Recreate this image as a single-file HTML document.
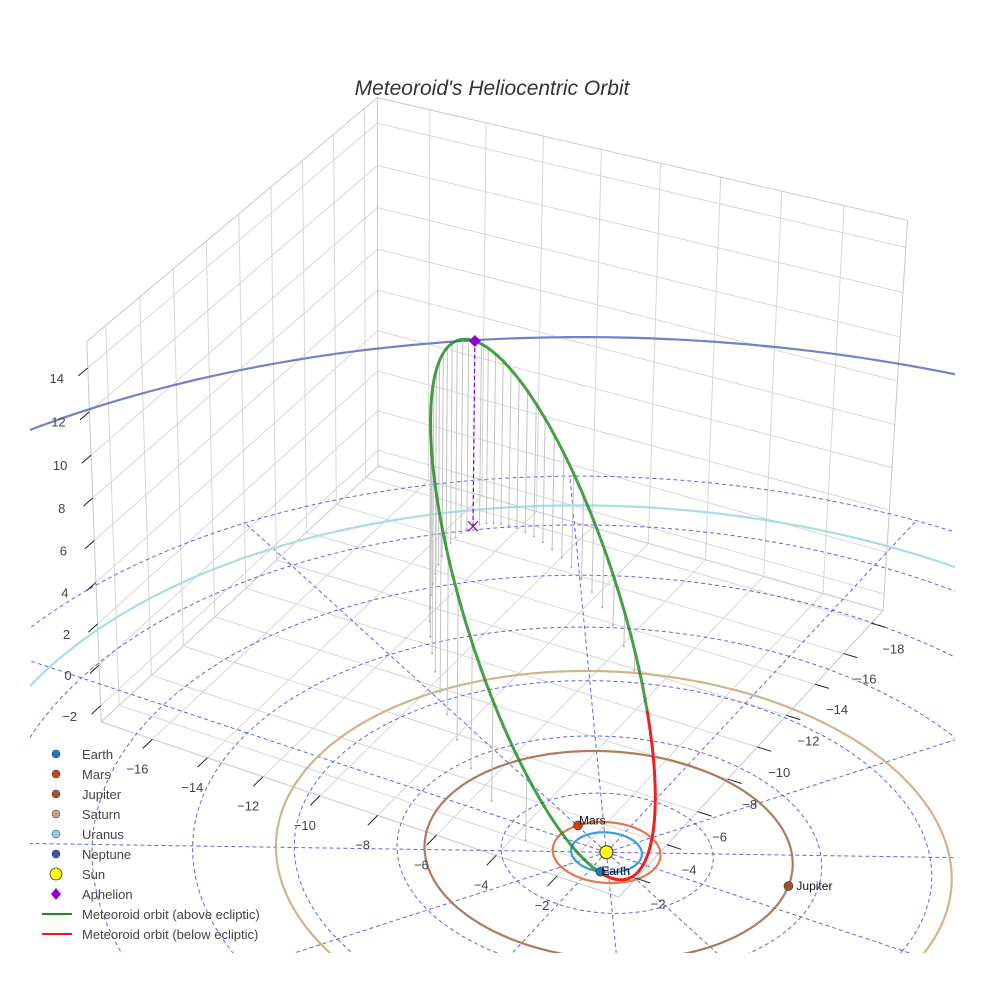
<!DOCTYPE html>
<html><head><meta charset="utf-8"><style>
html,body{margin:0;padding:0;background:#fff;width:984px;height:984px;overflow:hidden}
svg{display:block;font-family:"Liberation Sans",sans-serif}
</style></head><body>
<svg id="chart" width="984" height="984" viewBox="0 0 984 984">
<defs><clipPath id="sceneClip"><rect x="30" y="95" width="925" height="858"/></clipPath></defs>
<rect x="0" y="0" width="984" height="984" fill="#fff"/>
<g id="scene" clip-path="url(#sceneClip)"></g>
<g id="axes"></g>
<text x="492" y="95" text-anchor="middle" font-size="21" font-style="italic" fill="#333">Meteoroid's Heliocentric Orbit</text>
<g id="legend" font-size="13" fill="#444">
 <g><circle cx="56" cy="754" r="4" fill="#1f77b4" stroke="#234" stroke-width="0.5"/><text x="82" y="759">Earth</text></g>
 <g><circle cx="56" cy="774" r="4" fill="#cc4411" stroke="#234" stroke-width="0.5"/><text x="82" y="779">Mars</text></g>
 <g><circle cx="56" cy="794" r="4" fill="#a0522d" stroke="#234" stroke-width="0.5"/><text x="82" y="799">Jupiter</text></g>
 <g><circle cx="56" cy="814" r="4" fill="#c8a07a" stroke="#234" stroke-width="0.5"/><text x="82" y="819">Saturn</text></g>
 <g><circle cx="56" cy="834" r="4" fill="#8ccbe0" stroke="#234" stroke-width="0.5"/><text x="82" y="839">Uranus</text></g>
 <g><circle cx="56" cy="854" r="4" fill="#3f51a5" stroke="#234" stroke-width="0.5"/><text x="82" y="859">Neptune</text></g>
 <g><circle cx="56" cy="874" r="6" fill="#ffff00" stroke="#333" stroke-width="0.8"/><text x="82" y="879">Sun</text></g>
 <g><polygon points="56,888 61,894 56,900 51,894" fill="#9400d3"/><text x="82" y="899">Aphelion</text></g>
 <g><line x1="42" y1="914" x2="72" y2="914" stroke="#1f8a1f" stroke-width="2"/><text x="82" y="919">Meteoroid orbit (above ecliptic)</text></g>
 <g><line x1="42" y1="934" x2="72" y2="934" stroke="#e8191b" stroke-width="2"/><text x="82" y="939">Meteoroid orbit (below ecliptic)</text></g>
</g>
</svg>
<script>
// ---- data ----
const xTicks = [-16,-14,-12,-10,-8,-6,-4,-2];
const yTicks = [-18,-16,-14,-12,-10,-8,-6,-4,-2];
const zTicks = [-2,0,2,4,6,8,10,12,14];
const xRange = [-17.9, 0];
const yRange = [-18.85, -0.9];
const zRange = [-2.8, 15.2];
const planetNames = ["Earth","Mars","Jupiter","Saturn","Uranus","Neptune"];
const planetRadii = [1.0, 1.524, 5.203, 9.537, 19.19, 30.07];
const planetAngles = [73, 211, -13, 75, 45, 100];
const planetLabelShown = [true, true, true, false, false, false];
const ringRadii = [3,6,9,12,15,18,21];
const rayAngles = [0,30,60,90,120,150,180,210,240,270,300,330];
const perihelionQ = 0.966;
const eccentricity = 0.909;
const inclinationDeg = 52;
const nodeDeg = 72.3;
const argPeriDeg = -33.8;

// styling (not data)
const orbitColors = ["#3d9be0","#e0784e","#b07a5c","#d2b48c","#aadbe6","#7282c8"];
const markerColors = ["#1f77b4","#cc4411","#a0522d","#c8a07a","#8ccbe0","#3f51a5"];

// camera calibration (world -> screen) correspondences, last value = weight
function polar(r,a){return [r*Math.cos(a*Math.PI/180), r*Math.sin(a*Math.PI/180)];}
const calib = [
 [0,0,0,605,854,3],[0,-0.9,-2.8,620,893,1],[-17.9,-0.9,-2.8,100,727,1],[-17.9,-0.9,15.2,82,335,1],
 [-17.9,-18.85,15.2,389,102,1],[-17.9,-18.85,-2.8,394,470,1],[0,-18.85,-2.8,895,612,1],[0,-18.85,15.2,911,229,1],
 [-16,-0.9,-2.8,157,742,1],[-2,-0.9,-2.8,562,874,1],[0,-18,-2.8,880,623,1],[0,-2,-2.8,633,875,1],
 [-17.9,-0.9,14,85,362,1],[-17.9,-0.9,-2,102,710,1]
];
[[5.2,244,605,747],[5.2,149,426,854],[5.2,-31,792,854],
 [9.54,244,603,662],[19.19,244,600,517],[30.07,244,598,323]].forEach(r=>{
  const p=polar(r[0],r[1]); calib.push([p[0],p[1],0,r[2],r[3],1]);
});
function gauss(A,b){
  const n=b.length; const M=A.map((r,i)=>r.concat([b[i]]));
  for(let c=0;c<n;c++){
    let p=c; for(let r=c+1;r<n;r++) if(Math.abs(M[r][c])>Math.abs(M[p][c])) p=r;
    [M[c],M[p]]=[M[p],M[c]];
    for(let r=0;r<n;r++){ if(r===c) continue; const f=M[r][c]/M[c][c]; for(let k=c;k<=n;k++) M[r][k]-=f*M[c][k]; }
  }
  return M.map((r,i)=>r[n]/r[i]);
}
const cam=(function(){
  const N=[];for(let i=0;i<11;i++)N.push(new Array(11).fill(0));const r=new Array(11).fill(0);
  for(const c of calib){
    const x=c[0]/20,y=c[1]/20,z=c[2]/20,un=(c[3]-500)/500,vn=(c[4]-500)/500,wt=c[5];
    const rows=[[x,y,z,1,0,0,0,0,-un*x,-un*y,-un*z,un],[0,0,0,0,x,y,z,1,-vn*x,-vn*y,-vn*z,vn]];
    for(const row of rows) for(let i=0;i<11;i++){ r[i]+=wt*row[i]*row[11]; for(let j=0;j<11;j++) N[i][j]+=wt*row[i]*row[j]; }
  }
  return gauss(N,r);
})();
function P(X,Y,Z){
  const x=X/20,y=Y/20,z=Z/20,p=cam;
  const d=p[8]*x+p[9]*y+p[10]*z+1;
  return [ (p[0]*x+p[1]*y+p[2]*z+p[3])/d*500+500, (p[4]*x+p[5]*y+p[6]*z+p[7])/d*500+500, d>0.08 ];
}
const NS="http://www.w3.org/2000/svg";
const scene=document.getElementById('scene');
const axesG=document.getElementById('axes');
function mk(tag,attrs,parent){const e=document.createElementNS(NS,tag);for(const k in attrs)e.setAttribute(k,attrs[k]);(parent||scene).appendChild(e);return e;}
function pathFrom(pts3){
  let d="",pen=false;
  for(const q of pts3){const s=P(q[0],q[1],q[2]); if(!s[2]){pen=false;continue;} d+=(pen?"L":"M")+s[0].toFixed(1)+","+s[1].toFixed(1); pen=true;}
  return d;
}
function seg(a,b,stroke,w,name,dash){
  const e=mk('path',{d:pathFrom([a,b]),stroke:stroke,'stroke-width':w,fill:'none'});
  if(dash) e.setAttribute('stroke-dasharray',dash);
  
  
  return e;
}
const [x0,x1]=xRange,[y0,y1]=yRange,[z0,z1]=zRange;
const gridC="#d6d6d6", edgeC="#c8c8c8";
for(const t of xTicks) seg([t,y0,z0],[t,y1,z0],gridC,1,'floor-grid-x');
for(const t of yTicks) seg([x0,t,z0],[x1,t,z0],gridC,1,'floor-grid-y');
for(const t of yTicks) seg([x0,t,z0],[x0,t,z1],gridC,1,'left-wall-grid-y');
for(const t of zTicks) seg([x0,y0,t],[x0,y1,t],gridC,1,'left-wall-grid-z');
for(const t of xTicks) seg([t,y0,z0],[t,y0,z1],gridC,1,'right-wall-grid-x');
for(const t of zTicks) seg([x0,y0,t],[x1,y0,t],gridC,1,'right-wall-grid-z');
const edges=[[[x0,y1,z0],[x1,y1,z0]],[[x1,y1,z0],[x1,y0,z0]],[[x0,y0,z0],[x0,y1,z0]],[[x0,y0,z0],[x1,y0,z0]],
 [[x0,y1,z0],[x0,y1,z1]],[[x0,y0,z0],[x0,y0,z1]],[[x1,y0,z0],[x1,y0,z1]],
 [[x0,y1,z1],[x0,y0,z1]],[[x0,y0,z1],[x1,y0,z1]]];
for(const e of edges) seg(e[0],e[1],edgeC,1,'box-edge');

for(const r of ringRadii){
  const pts=[];for(let a=0;a<=360;a+=2){const t=a*Math.PI/180;pts.push([r*Math.cos(t),r*Math.sin(t),0]);}
  const e=mk('path',{d:pathFrom(pts),stroke:'rgba(70,70,235,0.85)','stroke-width':1,fill:'none','stroke-dasharray':'4,3'});
  
  
}
const rMax=ringRadii[ringRadii.length-1];
for(const a of rayAngles){
  const t=a*Math.PI/180;
  seg([0,0,0],[rMax*Math.cos(t),rMax*Math.sin(t),0],'rgba(70,70,235,0.85)',1,'ecliptic-ray','4,3');
}
planetRadii.forEach((r,i)=>{
  const pts=[];for(let a=0;a<=360;a+=1){const t=a*Math.PI/180;pts.push([r*Math.cos(t),r*Math.sin(t),0]);}
  const e=mk('path',{d:pathFrom(pts),stroke:orbitColors[i],'stroke-width':2.2,fill:'none'});
  
  
});

const D2R=Math.PI/180, inc=inclinationDeg*D2R, Om=nodeDeg*D2R, w=argPeriDeg*D2R;
const semiP=perihelionQ*(1+eccentricity);
function orbitPos(nu){
  const r=semiP/(1+eccentricity*Math.cos(nu)), u=w+nu;
  return [r*(Math.cos(Om)*Math.cos(u)-Math.sin(Om)*Math.sin(u)*Math.cos(inc)),
          r*(Math.sin(Om)*Math.cos(u)+Math.cos(Om)*Math.sin(u)*Math.cos(inc)),
          r*Math.sin(u)*Math.sin(inc)];
}
const dropG=mk('g',{});


for(let k=0;k<44;k++){
  const M=2*Math.PI*k/44; let E=M;
  for(let it=0;it<50;it++) E=E-(E-eccentricity*Math.sin(E)-M)/(1-eccentricity*Math.cos(E));
  const nu=2*Math.atan(Math.sqrt((1+eccentricity)/(1-eccentricity))*Math.tan(E/2));
  const p=orbitPos(nu); if(p[2]<=0.05) continue;
  const a=P(p[0],p[1],p[2]), b=P(p[0],p[1],0);
  const l=mk('line',{x1:a[0],y1:a[1],x2:b[0],y2:b[1],stroke:'#c4c4c4','stroke-width':1},dropG);
  
  
  const c=mk('circle',{cx:b[0],cy:b[1],r:1,fill:'#aaa'},dropG);
  
  
}
(function(){
  const pts=[];for(let i=0;i<=1440;i++){pts.push(orbitPos(-Math.PI+2*Math.PI*i/1440));}
  let cur=[pts[0]], sign=pts[0][2]>=0;
  function flush(){
    const e=mk('path',{d:pathFrom(cur),stroke:sign?'rgba(25,135,25,0.8)':'rgba(240,20,20,0.95)','stroke-width':3,fill:'none','stroke-linejoin':'round'});
    
    
  }
  for(let i=1;i<pts.length;i++){
    const s=pts[i][2]>=0;
    if(s!==sign){cur.push(pts[i]);flush();cur=[pts[i-1],pts[i]];sign=s;} else cur.push(pts[i]);
  }
  flush();
})();
(function(){
  const a=orbitPos(Math.PI);const t=P(a[0],a[1],a[2]), g=P(a[0],a[1],0);
  const l=mk('line',{x1:t[0],y1:t[1],x2:g[0],y2:g[1],stroke:'#9400d3','stroke-width':1.2,'stroke-dasharray':'4,3'});
  
  
  const x=mk('path',{d:`M${g[0]-5},${g[1]-5}L${g[0]+5},${g[1]+5}M${g[0]+5},${g[1]-5}L${g[0]-5},${g[1]+5}`,stroke:'#9400d3','stroke-width':1.2});
  
  
  const d=mk('polygon',{points:`${t[0]},${t[1]-6} ${t[0]+6},${t[1]} ${t[0]},${t[1]+6} ${t[0]-6},${t[1]}`,fill:'#9400d3'});
  
  
})();
(function(){
  const s=P(0,0,0);
  const c=mk('circle',{cx:s[0],cy:s[1],r:6.5,fill:'#ffff00',stroke:'#333','stroke-width':1});
  
  
})();
planetRadii.forEach((r,i)=>{
  const t=planetAngles[i]*D2R; const s=P(r*Math.cos(t),r*Math.sin(t),0); if(!s[2]) return;
  const c=mk('circle',{cx:s[0],cy:s[1],r:4.5,fill:markerColors[i],stroke:'#333','stroke-width':0.6});
  
  
  if(planetLabelShown[i]){
    const tx=mk('text',{x:s[0]+(i===2?8:1),y:s[1]+(i===1?-1:(i===2?4:3)),'font-size':12,fill:'#111'});
    tx.textContent=planetNames[i];
    
    
  }
});

function tick(a,b,lab,dx,dy,name){
  const pa=P(a[0],a[1],a[2]), pb=P(b[0],b[1],b[2]);
  const l=mk('line',{x1:pa[0],y1:pa[1],x2:pb[0],y2:pb[1],stroke:'#222','stroke-width':1},axesG);
  
  
  const t=mk('text',{x:pa[0]+dx,y:pa[1]+dy+5,'text-anchor':'middle','font-size':13,fill:'#444'},axesG);
  t.textContent=String(lab).replace('-','\u2212');
  
  
}
for(const v of xTicks) tick([v,y1,z0],[v,y1+0.6,z0],v,-15,29,'x-axis');
for(const v of yTicks) tick([x1,v,z0],[x1+0.45,v,z0],v,22,25,'y-axis');
for(const v of zTicks) tick([x0,y1,v],[x0,y1+0.55,v],v,-31,10,'z-axis');
</script>
</body></html>
